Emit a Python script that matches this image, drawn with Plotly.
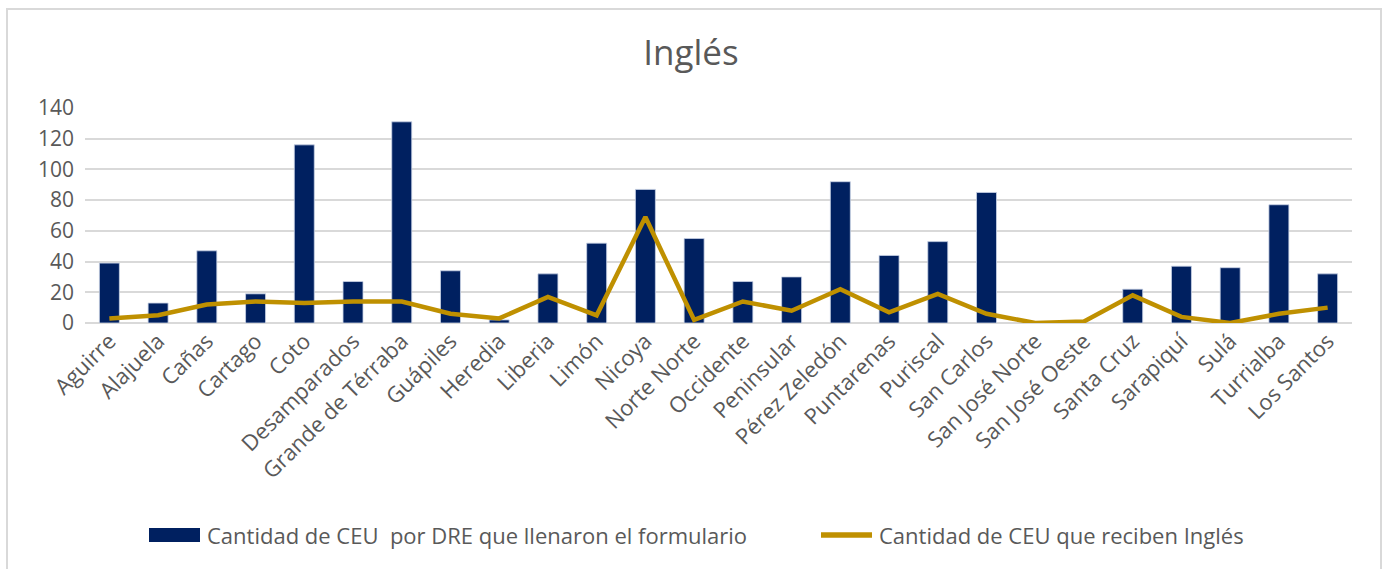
import plotly.graph_objects as go

categories = ["Aguirre", "Alajuela", "Cañas", "Cartago", "Coto", "Desamparados",
              "Grande de Térraba", "Guápiles", "Heredia", "Liberia", "Limón", "Nicoya",
              "Norte Norte", "Occidente", "Peninsular", "Pérez Zeledón", "Puntarenas",
              "Puriscal", "San Carlos", "San José Norte", "San José Oeste", "Santa Cruz",
              "Sarapiquí", "Sulá", "Turrialba", "Los Santos"]

ceu_formulario = [39, 13, 47, 19, 116, 27, 131, 34, 2, 32, 52, 87, 55, 27, 30, 92,
                  44, 53, 85, 0, 0, 22, 37, 36, 77, 32]

ceu_ingles = [3, 5, 12, 14, 13, 14, 14, 6, 3, 17, 5, 69, 2, 14, 8, 22,
              7, 19, 6, 0, 1, 18, 4, 0, 6, 10]

y_ticks = [0, 20, 40, 60, 80, 100, 120, 140]

name_bar = "Cantidad de CEU  por DRE que llenaron el formulario"
name_line = "Cantidad de CEU que reciben Inglés"

font_family = "Open Sans, Liberation Sans, Arial, sans-serif"
grey = "#595959"
bar_color = "#002060"
line_color = "#BF9000"

W, H = 1382, 569
L, R, T, B = 85, 30, 108, 246
PW = W - L - R
PH = H - T - B


def px(x):
    return (x - L) / PW


def py(y):
    return (H - B - y) / PH


fig = go.Figure()
fig.add_trace(go.Bar(
    x=categories, y=ceu_formulario, name=name_bar,
    marker=dict(color=bar_color, line=dict(color="#C9D3E6", width=0.8)),
))
fig.add_trace(go.Scatter(
    x=categories, y=ceu_ingles, mode="lines", name=name_line,
    line=dict(color=line_color, width=4.5),
))

fig.update_layout(
    width=W, height=H,
    margin=dict(l=L, r=R, t=T, b=B, autoexpand=False),
    paper_bgcolor="white", plot_bgcolor="white",
    bargap=0.59,
    showlegend=False,
    font=dict(family=font_family, color=grey, size=21),
    title=dict(text="Inglés", x=0.5, xanchor="center", xref="container",
               y=1 - 53 / H, yanchor="middle", yref="container",
               font=dict(size=35, color=grey, family=font_family)),
    xaxis=dict(tickangle=-45, tickfont=dict(size=22, color=grey),
               showgrid=False, showline=False, ticks="", automargin=False),
    yaxis=dict(range=[0, 140], tickvals=y_ticks, tickfont=dict(size=21, color=grey),
               gridcolor="#D9D9D9", gridwidth=1.5, zeroline=True, zerolinecolor="#D9D9D9",
               zerolinewidth=1.5, showline=False, ticks="", automargin=False,
               ticklabelstandoff=10),
)

# chart frame border
fig.add_shape(type="rect", xref="paper", yref="paper",
              x0=px(7), x1=px(1381), y0=py(620), y1=py(9),
              line=dict(color="#D9D9D9", width=2), fillcolor="rgba(0,0,0,0)", layer="below")

# custom legend (matching the reference's wide symbols)
leg_y = 535
fig.add_shape(type="rect", xref="paper", yref="paper",
              x0=px(149), x1=px(200), y0=py(542), y1=py(528),
              line=dict(width=0), fillcolor=bar_color)
fig.add_annotation(text=name_bar, xref="paper", yref="paper", x=px(205), y=py(leg_y),
                   xanchor="left", yanchor="middle", showarrow=False,
                   font=dict(size=22, color=grey, family=font_family))
fig.add_shape(type="line", xref="paper", yref="paper",
              x0=px(821), x1=px(872), y0=py(leg_y), y1=py(leg_y),
              line=dict(color=line_color, width=5.5))
fig.add_annotation(text=name_line, xref="paper", yref="paper", x=px(877), y=py(leg_y),
                   xanchor="left", yanchor="middle", showarrow=False,
                   font=dict(size=22, color=grey, family=font_family))

fig.write_html("out.html", config={"displayModeBar": False},
               post_script="document.body.style.margin='0';")
